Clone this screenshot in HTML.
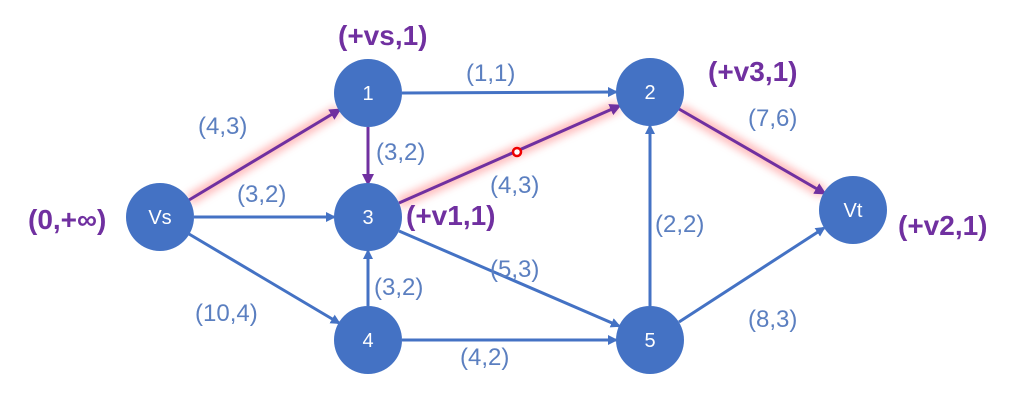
<!DOCTYPE html>
<html><head><meta charset="utf-8"><style>
html,body{margin:0;padding:0;background:#fff;}
svg{display:block;}
text{font-family:"Liberation Sans",sans-serif;}
.l{fill:#5b7fc0;font-size:24px;}
.p{fill:#7030a0;font-size:28px;font-weight:bold;}
.n{fill:#fff;font-size:20px;text-anchor:middle;dominant-baseline:central;}
.e{stroke:#4472c4;stroke-width:3;marker-end:url(#ab);}
.q{stroke:#7030a0;stroke-width:3;marker-end:url(#ap);}
.g{stroke:#ff8a8a;stroke-width:12;opacity:.55;filter:url(#bl);}
</style></head><body>
<svg width="1024" height="403" viewBox="0 0 1024 403">
<defs>
<marker id="ab" markerWidth="10" markerHeight="10" refX="8" refY="5" orient="auto" markerUnits="userSpaceOnUse" viewBox="0 0 10 10"><path d="M0,0 L10,5 L0,10 z" fill="#4472c4"/></marker>
<marker id="ap" markerWidth="12" markerHeight="12" refX="9" refY="6" orient="auto" markerUnits="userSpaceOnUse" viewBox="0 0 12 12"><path d="M0,0 L12,6 L0,12 z" fill="#7030a0"/></marker>
<filter id="bl" x="-20%" y="-50%" width="140%" height="200%"><feGaussianBlur stdDeviation="4"/></filter>
</defs>
<line class="g" x1="189" y1="200" x2="339" y2="110"/>
<line class="g" x1="368" y1="127" x2="368" y2="183"/>
<line class="g" x1="399" y1="203" x2="619" y2="106"/>
<line class="g" x1="679" y1="109" x2="824" y2="193"/>
<line class="e" x1="402" y1="93" x2="616" y2="92"/>
<line class="e" x1="194" y1="217" x2="334" y2="217"/>
<line class="e" x1="189" y1="234" x2="339" y2="323"/>
<line class="e" x1="368" y1="306" x2="368" y2="251"/>
<line class="e" x1="399" y1="231" x2="619" y2="326"/>
<line class="e" x1="402" y1="340" x2="616" y2="340"/>
<line class="e" x1="650" y1="306" x2="650" y2="126"/>
<line class="e" x1="679" y1="322" x2="824" y2="228"/>
<line class="q" x1="189" y1="200" x2="339" y2="110"/>
<line class="q" x1="368" y1="127" x2="368" y2="183"/>
<line class="q" x1="399" y1="203" x2="619" y2="106"/>
<line class="q" x1="679" y1="109" x2="824" y2="193"/>
<circle cx="517" cy="152" r="4" fill="#fff" stroke="#e00" stroke-width="2.5"/>
<g fill="#4472c4">
<circle cx="160" cy="217" r="34"/><circle cx="368" cy="93" r="34"/>
<circle cx="650" cy="92" r="34"/><circle cx="368" cy="217" r="34"/>
<circle cx="368" cy="340" r="34"/><circle cx="650" cy="340" r="34"/>
<circle cx="853" cy="210" r="34"/>
</g>
<text class="n" x="160" y="218">Vs</text>
<text class="n" x="368" y="94">1</text>
<text class="n" x="650" y="93">2</text>
<text class="n" x="368" y="218">3</text>
<text class="n" x="368" y="341">4</text>
<text class="n" x="650" y="341">5</text>
<text class="n" x="853" y="211">Vt</text>
<text class="l" x="198" y="134">(4,3)</text>
<text class="l" x="466" y="81">(1,1)</text>
<text class="l" x="376" y="160">(3,2)</text>
<text class="l" x="237" y="202">(3,2)</text>
<text class="l" x="490" y="193">(4,3)</text>
<text class="l" x="748" y="126">(7,6)</text>
<text class="l" x="655" y="232">(2,2)</text>
<text class="l" x="490" y="277">(5,3)</text>
<text class="l" x="374" y="295">(3,2)</text>
<text class="l" x="195" y="321">(10,4)</text>
<text class="l" x="460" y="365">(4,2)</text>
<text class="l" x="748" y="327">(8,3)</text>
<text class="p" x="338" y="45">(+vs,1)</text>
<text class="p" x="708" y="81">(+v3,1)</text>
<text class="p" x="28" y="229">(0,+∞)</text>
<text class="p" x="406" y="225">(+v1,1)</text>
<text class="p" x="898" y="235">(+v2,1)</text>
</svg>
</body></html>
